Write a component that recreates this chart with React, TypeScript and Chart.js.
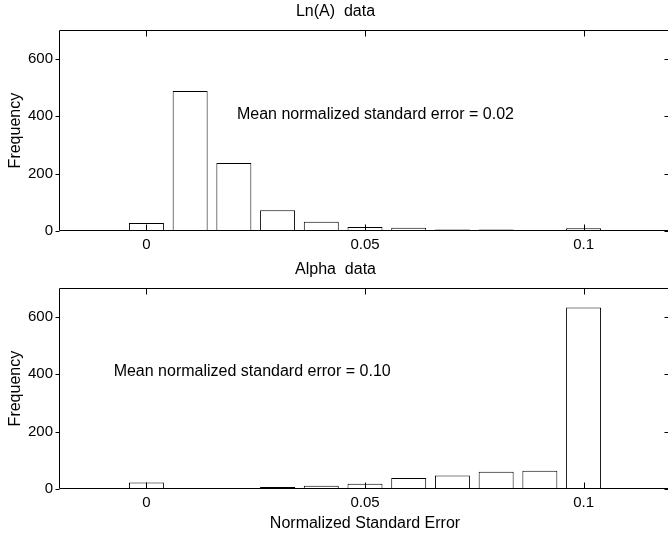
import React, { useEffect, useRef } from "react";
import { Chart, registerables } from "chart.js";

Chart.register(...registerables);

const binCenters = [0, 0.01, 0.02, 0.03, 0.04, 0.05, 0.06, 0.07, 0.08, 0.09, 0.1];
const lnAFreq = [28, 488, 237, 72, 32, 14, 11, 5, 5, 2, 10];
const alphaFreq = [23, 0, 2, 7, 11, 18, 38, 47, 60, 64, 633];
const xTickValues = [0, 0.05, 0.1];
const yTickValues = [0, 200, 400, 600];
const xTickLabels = ["0", "0.05", "0.1"];

const FONT = "'Liberation Sans', Arial, Helvetica, sans-serif";

const framePlugin = {
  id: "matlabFrame",
  afterDatasetsDraw(chart: any) {
    const { ctx, chartArea } = chart;
    const xs = chart.scales.x;
    const ys = chart.scales.y;
    ctx.save();
    ctx.strokeStyle = "#000";
    ctx.lineWidth = 1;
    const l = Math.round(chartArea.left) + 0.5;
    const r = Math.round(chartArea.right) - 0.5;
    const t = Math.round(chartArea.top) + 0.5;
    const b = Math.round(chartArea.bottom) - 0.5;
    ctx.beginPath();
    ctx.rect(l, t, r - l, b - t);
    ctx.stroke();
    ctx.beginPath();
    for (const v of xTickValues) {
      const px = Math.round(xs.getPixelForValue(v)) + 0.5;
      ctx.moveTo(px, b);
      ctx.lineTo(px, b - 6);
      ctx.moveTo(px, t);
      ctx.lineTo(px, t + 6);
    }
    for (const v of yTickValues) {
      const py = Math.round(ys.getPixelForValue(v)) + 0.5;
      ctx.moveTo(l, py);
      ctx.lineTo(l - 4, py);
      ctx.moveTo(r, py);
      ctx.lineTo(r - 6, py);
    }
    ctx.stroke();
    const note = chart.options.plugins.matlabFrame;
    if (note && note.text) {
      ctx.fillStyle = "#000";
      ctx.font = `16px ${FONT}`;
      ctx.textAlign = "left";
      ctx.textBaseline = "middle";
      ctx.fillText(note.text, xs.getPixelForValue(note.x), ys.getPixelForValue(note.y));
    }
    ctx.restore();
  },
};

function makeConfig(
  title: string,
  values: number[],
  note: { text: string; x: number; y: number },
  titlePad: { top: number; bottom: number },
  xHeight: number,
  xTitle: string | null
): any {
  return {
    type: "bar",
    data: {
      datasets: [
        {
          data: binCenters.map((c, i) => ({ x: c, y: values[i] })),
          backgroundColor: "#fff",
          borderColor: "#000",
          borderWidth: 1,
          borderSkipped: false,
          categoryPercentage: 1,
          barPercentage: 0.8,
        },
      ],
    },
    options: {
      animation: false,
      responsive: false,
      layout: { padding: { left: 0, right: 1, top: 0, bottom: 0 } },
      plugins: {
        legend: { display: false },
        tooltip: { enabled: false },
        title: {
          display: true,
          text: title,
          color: "#000",
          font: { family: FONT, size: 16, weight: "normal" },
          padding: titlePad,
        },
        matlabFrame: note,
      },
      scales: {
        x: {
          type: "linear",
          min: -0.02,
          max: 0.12,
          offset: false,
          grid: { display: false, drawTicks: false },
          border: { display: false },
          afterBuildTicks: (s: any) => {
            s.ticks = xTickValues.map((v) => ({ value: v }));
          },
          afterFit: (s: any) => {
            s.height = xHeight;
          },
          ticks: {
            color: "#000",
            padding: 5,
            maxRotation: 0,
            font: { family: FONT, size: 15 },
            callback: (v: number) => {
              const i = xTickValues.indexOf(v);
              return i >= 0 ? xTickLabels[i] : "";
            },
          },
          title: xTitle
            ? {
                display: true,
                text: xTitle,
                color: "#000",
                font: { family: FONT, size: 16 },
                padding: { top: 0, bottom: 2 },
              }
            : { display: false },
        },
        y: {
          min: 0,
          max: 700,
          grid: { display: false, drawTicks: false },
          border: { display: false },
          afterBuildTicks: (s: any) => {
            s.ticks = yTickValues.map((v) => ({ value: v }));
          },
          afterFit: (s: any) => {
            s.width = 59;
          },
          ticks: {
            color: "#000",
            padding: 6,
            font: { family: FONT, size: 15 },
          },
          title: {
            display: true,
            text: "Frequency",
            color: "#000",
            font: { family: FONT, size: 16 },
            padding: { top: 6, bottom: 0 },
          },
        },
      },
    },
    plugins: [framePlugin],
  };
}

function Panel(props: { config: any; width: number; height: number; top: number }) {
  const ref = useRef<HTMLCanvasElement | null>(null);
  useEffect(() => {
    if (!ref.current) return;
    const chart = new Chart(ref.current, props.config);
    return () => chart.destroy();
  }, []);
  return (
    <canvas
      ref={ref}
      width={props.width}
      height={props.height}
      style={{ position: "absolute", left: 0, top: props.top, width: props.width, height: props.height }}
    />
  );
}

export default function App() {
  const top = makeConfig(
    "Ln(A)  data",
    lnAFreq,
    { text: "Mean normalized standard error = 0.02", x: 0.0207, y: 405 },
    { top: 2, bottom: 9 },
    29,
    null
  );
  const bottom = makeConfig(
    "Alpha  data",
    alphaFreq,
    { text: "Mean normalized standard error = 0.10", x: -0.0075, y: 409 },
    { top: 0, bottom: 9 },
    46,
    "Normalized Standard Error"
  );
  return (
    <div
      style={{
        position: "fixed",
        left: 0,
        top: 0,
        width: 668,
        height: 535,
        overflow: "hidden",
        background: "#fff",
      }}
    >
      <Panel config={top} width={672} height={260} top={0} />
      <Panel config={bottom} width={672} height={275} top={260} />
    </div>
  );
}
